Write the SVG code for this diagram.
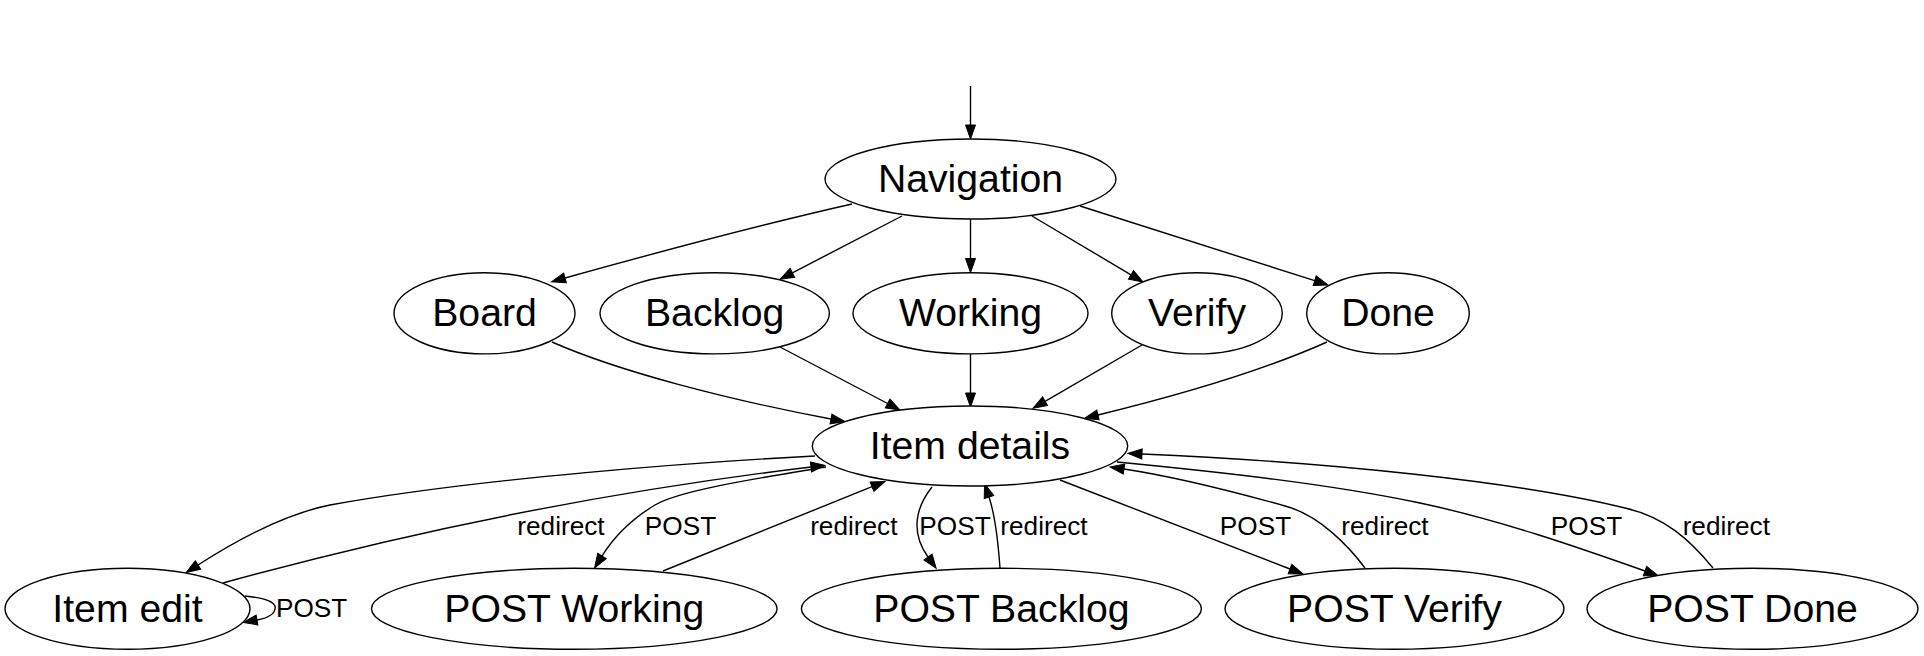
<svg xmlns="http://www.w3.org/2000/svg" width="1924" height="656" viewBox="0 0 1924 656">
<style>
.node ellipse{fill:#ffffff;stroke:#000000;stroke-width:1.4}
.node text{font-family:"Liberation Sans",Arial,sans-serif;font-size:39.2px;fill:#000;text-anchor:middle}
.edges path{fill:none;stroke:#000;stroke-width:1.4;marker-end:url(#ah)}
.edges text{font-family:"Liberation Sans",Arial,sans-serif;font-size:26.2px;fill:#000;text-anchor:middle}
</style>
<defs>
<marker id="ah" markerWidth="14" markerHeight="10" refX="0" refY="5" orient="auto" markerUnits="userSpaceOnUse" overflow="visible">
<path d="M0,0 L14,5 L0,10 z" fill="#000" stroke="#000" stroke-width="1"/>
</marker>
</defs>
<rect width="1924" height="656" fill="#ffffff"/>
<g id="edges" class="edges">
<path d="M970.5,86 L970.5,125"/>
<path d="M852,204 C 790,218 680,246 565,278"/>
<path d="M902,216 L792.4,272.8"/>
<path d="M970.5,219 L970.5,258.5"/>
<path d="M1032,216 L1131,274.8"/>
<path d="M1080,206 L1314.7,280.7"/>
<path d="M552,342 C 620,372 730,400 831,419"/>
<path d="M780,347 L887.6,403.5"/>
<path d="M970.5,354 L970.5,393"/>
<path d="M1142,345 L1045.1,401.3"/>
<path d="M1327,342 C 1260,372 1180,395 1098,415"/>
<path d="M815,456 C 700,462 480,478 330,505 C 285,514 240,538 198,565"/>
<path d="M223,583 C 350,548 560,497 811,467"/>
<path d="M826,467 C 760,478 680,490 655,505 C 630,520 612,540 602,556"/>
<path d="M663,571 L872,486.7"/>
<path d="M932,487 C 916,507 910,532 928,557"/>
<path d="M1000,568 C 998,540 995,515 989,497"/>
<path d="M1060,480 L1290,569"/>
<path d="M1365,568 C 1350,548 1320,515 1285,506 C 1235,492 1170,476 1124,469"/>
<path d="M1117,462 C 1220,472 1330,484 1420,503 C 1500,520 1580,548 1645,571"/>
<path d="M1713,568 C 1690,540 1665,517 1625,508 C 1520,482 1330,462 1142,454"/>
<path d="M245,596 C 265,598 277,602 275,609 C 274,615 268,618 257,620"/>
<text x="561" y="535">redirect</text>
<text x="680.5" y="535">POST</text>
<text x="853.8" y="535">redirect</text>
<text x="955" y="535">POST</text>
<text x="1044" y="535">redirect</text>
<text x="1255.5" y="535">POST</text>
<text x="1385" y="535">redirect</text>
<text x="1586.5" y="535">POST</text>
<text x="1726.3" y="535">redirect</text>
<text x="276" y="617" style="text-anchor:start">POST</text>
</g>
<g id="navigation" class="node"><ellipse cx="970.5" cy="179" rx="145.5" ry="40"/><text x="970.5" y="192">Navigation</text></g>
<g id="board" class="node"><ellipse cx="484.5" cy="313.3" rx="90.5" ry="40.6"/><text x="484.5" y="326.3">Board</text></g>
<g id="backlog" class="node"><ellipse cx="714.7" cy="313.3" rx="114.7" ry="40.6"/><text x="714.7" y="326.3">Backlog</text></g>
<g id="working" class="node"><ellipse cx="970.5" cy="313.3" rx="117.5" ry="40.6"/><text x="970.5" y="326.3">Working</text></g>
<g id="verify" class="node"><ellipse cx="1197" cy="313.3" rx="85.3" ry="40.6"/><text x="1197" y="326.3">Verify</text></g>
<g id="done" class="node"><ellipse cx="1388" cy="313.3" rx="81.3" ry="40.6"/><text x="1388" y="326.3">Done</text></g>
<g id="item_details" class="node"><ellipse cx="970" cy="446" rx="157.7" ry="40"/><text x="970" y="459">Item details</text></g>
<g id="item_edit" class="node"><ellipse cx="127.5" cy="608.8" rx="122.5" ry="40.5"/><text x="127.5" y="621.8">Item edit</text></g>
<g id="post_working" class="node"><ellipse cx="574.3" cy="608.8" rx="202.8" ry="40.5"/><text x="574.3" y="621.8">POST Working</text></g>
<g id="post_backlog" class="node"><ellipse cx="1001.4" cy="608.8" rx="200" ry="40.5"/><text x="1001.4" y="621.8">POST Backlog</text></g>
<g id="post_verify" class="node"><ellipse cx="1394.5" cy="608.8" rx="169.5" ry="40.5"/><text x="1394.5" y="621.8">POST Verify</text></g>
<g id="post_done" class="node"><ellipse cx="1752.5" cy="608.8" rx="165.5" ry="40.5"/><text x="1752.5" y="621.8">POST Done</text></g>
</svg>
